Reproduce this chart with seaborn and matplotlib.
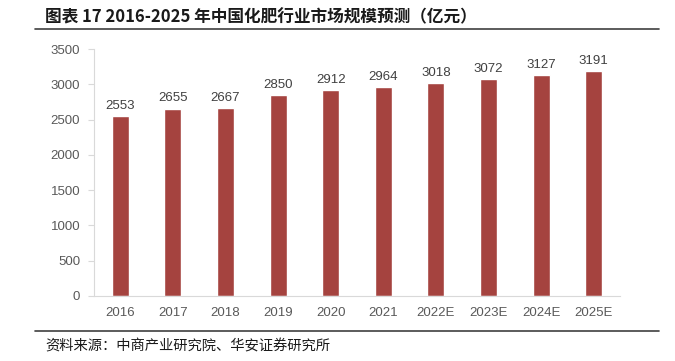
import pandas as pd
import seaborn as sns
import matplotlib.pyplot as plt
from matplotlib.lines import Line2D

# Data
years = ['2016', '2017', '2018', '2019', '2020', '2021', '2022E', '2023E', '2024E', '2025E']
market_size = [2553, 2655, 2667, 2850, 2912, 2964, 3018, 3072, 3127, 3191]
y_ticks = [0, 500, 1000, 1500, 2000, 2500, 3000, 3500]

df = pd.DataFrame({'year': years, 'size': market_size})

sns.set_theme(style="white")
plt.rcParams['font.family'] = ['Noto Sans CJK SC', 'DejaVu Sans']

fig = plt.figure(figsize=(6.75, 3.61), dpi=100)
ax = fig.add_axes([94 / 675, 1 - 296 / 361, (620 - 94) / 675, (296 - 49) / 361])

sns.barplot(x='year', y='size', data=df, color='#A5433F', width=0.32,
            saturation=1, ax=ax)

for i, v in enumerate(market_size):
    ax.text(i, v + 60, str(v), ha='center', va='bottom', fontsize=9.5,
            color='#404040', family='Liberation Sans')

ax.set_ylim(0, 3500)
ax.set_yticks(y_ticks)
ax.set_xlim(-0.5, len(years) - 0.5)
ax.set_xlabel('')
ax.set_ylabel('')

for lab in ax.get_xticklabels() + ax.get_yticklabels():
    lab.set_family('Liberation Sans')
    lab.set_fontsize(9.5)
    lab.set_color('#595959')

ax.set_xticks([i - 0.5 for i in range(len(years) + 1)], minor=True)
ax.tick_params(axis='x', which='major', length=0, pad=8)
ax.tick_params(axis='x', which='minor', length=4, color='#D9D9D9', width=0.8)
ax.tick_params(axis='y', length=4, color='#D9D9D9', width=0.8, pad=6, left=True)

for side in ['top', 'right']:
    ax.spines[side].set_visible(False)
for side in ['left', 'bottom']:
    ax.spines[side].set_color('#D9D9D9')
    ax.spines[side].set_linewidth(0.8)

# Title, rules and source note
fig.text(45 / 675, 1 - 17 / 361, '图表 17 2016-2025 年中国化肥行业市场规模预测（亿元）',
         fontsize=12, fontweight='bold', color='#1a1a1a', va='center', ha='left')
fig.add_artist(Line2D([35 / 675, 659 / 675], [1 - 28.5 / 361, 1 - 28.5 / 361],
                      color='#404040', linewidth=1.2))
fig.add_artist(Line2D([35 / 675, 659 / 675], [1 - 331 / 361, 1 - 331 / 361],
                      color='#404040', linewidth=1.2))
fig.text(45 / 675, 1 - 346 / 361, '资料来源：中商产业研究院、华安证券研究所',
         fontsize=10.3, color='#1a1a1a', va='center', ha='left')

fig.savefig('out.png', dpi=100)
